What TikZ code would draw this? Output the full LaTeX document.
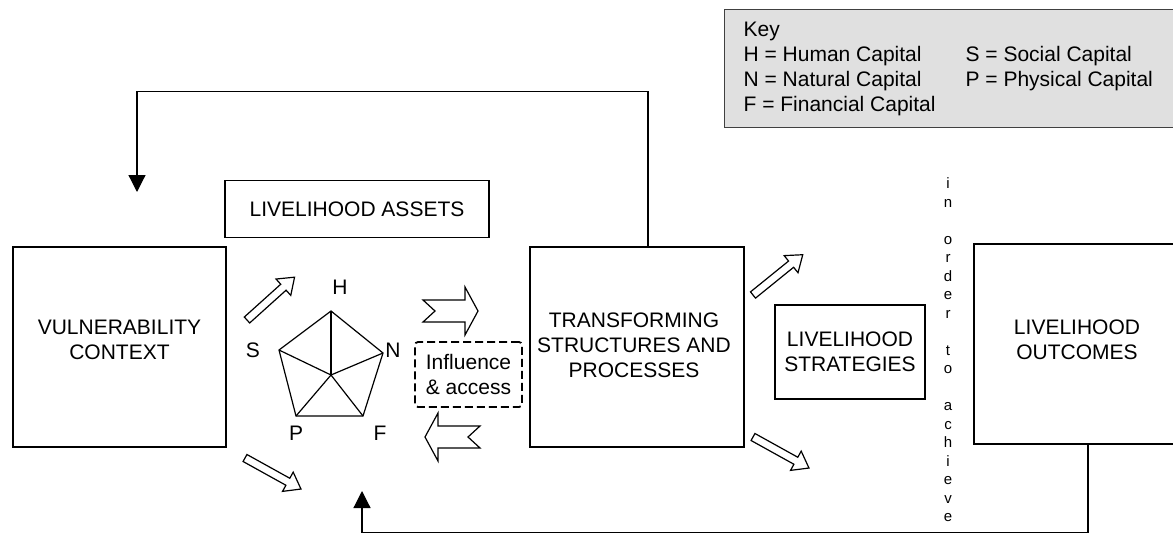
\documentclass[tikz,border=0pt]{standalone}
\usepackage{fontspec}
\setmainfont{Liberation Sans}
\usetikzlibrary{arrows.meta,positioning,shapes.geometric}

\begin{document}
\begin{tikzpicture}[
  x=1pt, y=-1pt,
  font=\fontsize{21}{25}\selectfont,
  line width=1.2pt,
  box/.style={rectangle, draw=black, inner sep=0pt, align=center, line width=1.2pt},
  lbl/.style={align=center, inner sep=0pt},
  feedback/.style={-{Triangle[width=17pt,length=17pt]}, line width=1.2pt},
  arrowline/.style={draw=black, fill=white, line width=1.2pt, line join=miter},
  fat arrow/.pic={
    \draw[arrowline] (0,-4) -- (49,-4) -- (49,-11) -- (64,0) -- (49,11) -- (49,4) -- (0,4) -- cycle;
  },
  notch arrow/.pic={
    \draw[arrowline] (0,-11) -- (42,-11) -- (42,-24) -- (55,0) -- (42,24) -- (42,11) -- (0,11) -- (12,0) -- cycle;
  }
]
\useasboundingbox (0,0) rectangle (1173,533);

% key
\node[box, fill=black!12, draw=black!75, minimum width=458, minimum height=118, anchor=north west] (key) at (724,9) {};
\node[inner sep=0pt, anchor=north west] (keytext) at (743,18) {%
  \begin{tabular}{@{}l@{\hspace{30pt}}l@{}}
  Key & \\
  H = Human Capital & S = Social Capital \\
  N = Natural Capital & P = Physical Capital \\
  F = Financial Capital &
  \end{tabular}};

% main boxes
\node[box, minimum width=213, minimum height=200] (vc) at (119.5,347) {};
\node[lbl] (vctext) at (119.5,340) {VULNERABILITY\\CONTEXT};
\node[box, minimum width=264, minimum height=57] (la) at (357,209) {LIVELIHOOD ASSETS};
\node[box, minimum width=214, minimum height=200] (tsp) at (637,347) {};
\node[lbl] (tsptext) at (634,345) {TRANSFORMING\\STRUCTURES AND\\PROCESSES};
\node[box, minimum width=150, minimum height=94] (ls) at (850,352) {LIVELIHOOD\\STRATEGIES};
\node[box, minimum width=206, minimum height=200] (lo) at (1077,344) {};
\node[lbl] (lotext) at (1077,340) {LIVELIHOOD\\OUTCOMES};
\node[box, dashed, dash pattern=on 8pt off 4pt, rounded corners=3pt, line width=1.8pt,
  minimum width=107, minimum height=65] (infl) at (468.5,374.5) {Influence\\\& access};

\node[lbl, font=\fontsize{15}{18.5}\selectfont] (order) at (948,350)
  {i\\n\\[18.5pt]o\\r\\d\\e\\r\\[18.5pt]t\\o\\[18.5pt]a\\c\\h\\i\\e\\v\\e};

% asset pentagon
\coordinate (h) at (331,311);
\coordinate (n) at (383,353);
\coordinate (f) at (363,416);
\coordinate (p) at (296,416);
\coordinate (s) at (279,350);
\coordinate (hub) at (331,375);
\draw (h) -- (n) -- (f) -- (p) -- (s) -- cycle;
\foreach \v in {h,n,f,p,s} {
  \draw (hub) -- (\v);
}
\node[lbl] (hl) at (340,287) {H};
\node[lbl] (sl) at (253,350) {S};
\node[lbl] (nl) at (393,350) {N};
\node[lbl] (pl) at (296,433) {P};
\node[lbl] (fl) at (380,433) {F};

% block arrows
\pic[rotate=42] at (247,320) {fat arrow};
\pic[rotate=-29] at (245,458) {fat arrow};
\pic[rotate=39] at (753,295) {fat arrow};
\pic[rotate=-29] at (753,437) {fat arrow};
\pic at (423,311) {notch arrow};
\pic[rotate=180] at (480,437) {notch arrow};

% feedback loops
\coordinate (fbtop) at (137,192);
\coordinate (fbbot) at (362,491);
\draw[feedback] ([xshift=11pt]tsp.north) -- ++(0,-155) -| (fbtop);
\draw[feedback] ([xshift=11pt]lo.south) -- ++(0,88) -| (fbbot);

\end{tikzpicture}
\end{document}
